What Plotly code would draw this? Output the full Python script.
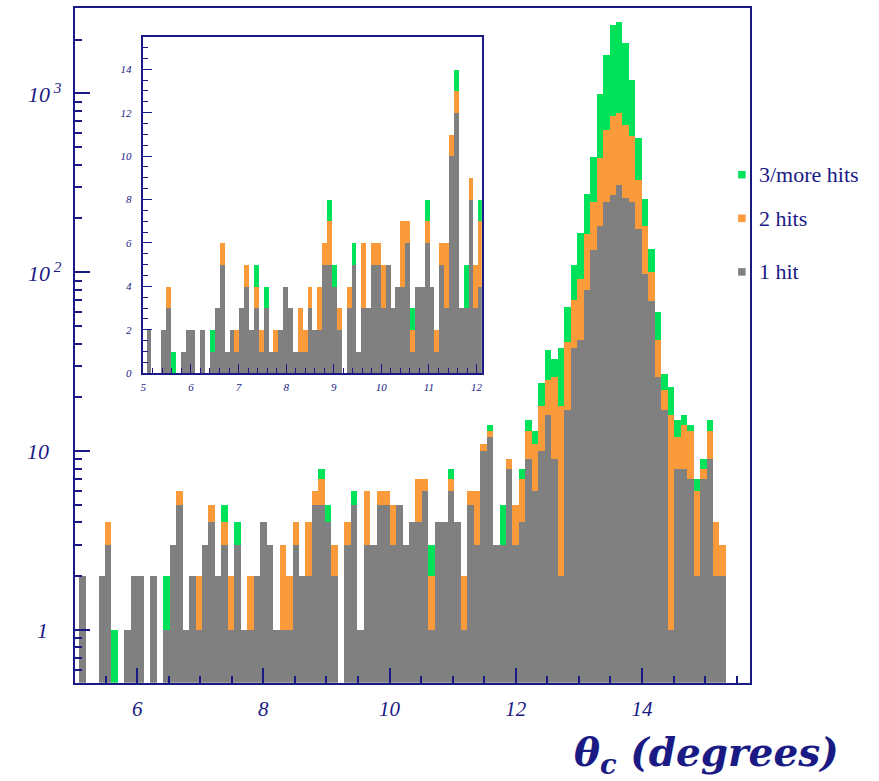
import numpy as np
import plotly.graph_objects as go

# Cherenkov angle histogram: 100 bins of 0.1025 deg starting at 5.075 deg
theta_start = 5.075
theta_step = 0.1025
n_bins = 100

# Counts per bin, split by number of hits
hits_1 = [
    2, 0, 0, 2, 3, 0, 0, 1, 2, 2,
    0, 2, 0, 1, 3, 5, 1, 2, 1, 3,
    4, 2, 3, 1, 3, 1, 1, 2, 4, 3,
    1, 1, 1, 3, 2, 2, 5, 5, 4, 2,
    0, 3, 5, 1, 3, 3, 5, 5, 3, 5,
    3, 4, 4, 6, 1, 4, 4, 6, 4, 1,
    5, 3, 10, 12, 3, 3, 8, 3, 4, 9,
    6, 10, 16, 9, 2, 17, 38, 42, 80, 133,
    182, 246, 270, 310, 259, 246, 174, 98, 69, 26,
    17, 1, 8, 8, 7, 2, 7, 9, 2, 2,
]
hits_2 = [
    0, 0, 0, 0, 1, 0, 0, 0, 0, 0,
    0, 0, 0, 0, 0, 1, 0, 0, 1, 0,
    1, 0, 1, 1, 0, 0, 1, 0, 0, 0,
    0, 2, 1, 1, 0, 2, 1, 2, 0, 1,
    0, 1, 0, 0, 3, 0, 1, 1, 2, 0,
    0, 0, 3, 1, 1, 0, 0, 1, 0, 1,
    1, 3, 1, 1, 0, 0, 1, 2, 3, 4,
    5, 8, 9, 17, 16, 24, 32, 50, 83, 115,
    253, 378, 480, 472, 412, 334, 153, 84, 32, 16,
    5, 15, 4, 6, 6, 4, 1, 4, 2, 1,
]
hits_3plus = [
    0, 0, 0, 0, 0, 1, 0, 0, 0, 0,
    0, 0, 0, 1, 0, 0, 0, 0, 0, 0,
    0, 0, 1, 0, 1, 0, 0, 0, 0, 0,
    0, 0, 0, 0, 0, 0, 0, 1, 1, 0,
    0, 0, 1, 0, 0, 0, 0, 0, 0, 0,
    0, 0, 0, 0, 1, 0, 0, 1, 0, 0,
    0, 0, 0, 1, 0, 2, 0, 0, 1, 2,
    2, 6, 12, 7, 20, 23, 40, 75, 110, 194,
    553, 1024, 1667, 1719, 1242, 617, 234, 76, 35, 18,
    5, 7, 3, 2, 1, 1, 1, 2, 0, 0,
]

series_names = ["1 hit", "2 hits", "3/more hits"]

main_x_ticks = [6, 8, 10, 12, 14]
main_y_ticks = [1, 10, 100, 1000]
main_y_text = ["1", "10", "10<sup> 2</sup>", "10<sup> 3</sup>"]
inset_x_ticks = [5, 6, 7, 8, 9, 10, 11, 12]
inset_y_ticks = [0, 2, 4, 6, 8, 10, 12, 14]

edges = theta_start + theta_step * np.arange(n_bins + 1)
centers = 0.5 * (edges[:-1] + edges[1:])

W, H = 879, 781
NAVY = "#1a1a84"
COLORS = ["#808080", "#fb9a3a", "#00e25a"]
SERIF = "Times New Roman, Liberation Serif, Times, serif"


def fx(p):
    return p / W


def fy(p):
    return 1 - p / H


fig = go.Figure()
stack = [hits_1, hits_2, hits_3plus]
for xa, ya in (("x", "y"), ("x2", "y2")):
    for name, vals, col in zip(series_names, stack, COLORS):
        fig.add_trace(go.Bar(
            x=centers, y=vals, width=theta_step, name=name,
            marker=dict(color=col, line=dict(width=0)),
            xaxis=xa, yaxis=ya, showlegend=False,
        ))

tickfont_main = dict(family=SERIF, size=21, color=NAVY, style="italic")
tickfont_inset = dict(family=SERIF, size=11, color=NAVY, style="italic")

x_minor = [v for v in np.arange(5.5, 15.51, 0.5) if v not in main_x_ticks]
y_minor = ([0.5, 0.6, 0.7, 0.8, 0.9] + list(range(2, 10)) + list(range(20, 100, 10))
           + list(range(200, 1000, 100)) + [2000, 3000])
ix_minor = [round(v, 2) for v in np.arange(5.2, 12.11, 0.2) if abs(v - round(v)) > 1e-6]
iy_minor = [v for v in np.arange(0.5, 15.5, 0.5) if v not in inset_y_ticks]

fig.update_layout(
    width=W, height=H,
    margin=dict(l=0, r=0, t=0, b=0),
    paper_bgcolor="white", plot_bgcolor="white",
    barmode="stack", bargap=0, showlegend=False,
    xaxis=dict(
        domain=[fx(72), fx(750)], range=[5.01, 15.705], anchor="y",
        showline=True, linecolor=NAVY, linewidth=2, mirror=True,
        showgrid=False, zeroline=False,
        ticks="inside", ticklen=15, tickwidth=1.5, tickcolor=NAVY,
        tickvals=main_x_ticks, ticktext=[str(v) for v in main_x_ticks],
        tickfont=tickfont_main, ticklabelstandoff=6,
        minor=dict(tickvals=x_minor, ticks="inside", ticklen=7,
                   tickwidth=1.5, tickcolor=NAVY, showgrid=False),
    ),
    yaxis=dict(
        type="log", domain=[fy(688), fy(8)], range=[-0.294, 3.478], anchor="x",
        showline=True, linecolor=NAVY, linewidth=2, mirror=True,
        showgrid=False, zeroline=False,
        ticks="inside", ticklen=15, tickwidth=1.5, tickcolor=NAVY,
        tickvals=main_y_ticks, showticklabels=False,
        minor=dict(tickvals=y_minor, ticks="inside", ticklen=7,
                   tickwidth=1.5, tickcolor=NAVY, showgrid=False),
    ),
    xaxis2=dict(
        domain=[fx(141), fx(481)], range=[5.0, 12.11], anchor="y2",
        showline=True, linecolor=NAVY, linewidth=1.5, mirror=True,
        showgrid=False, zeroline=False,
        ticks="inside", ticklen=9, tickwidth=1, tickcolor=NAVY,
        tickvals=inset_x_ticks, ticktext=[str(v) for v in inset_x_ticks],
        tickfont=tickfont_inset, ticklabelstandoff=3,
        minor=dict(tickvals=ix_minor, ticks="inside", ticklen=5,
                   tickwidth=1, tickcolor=NAVY, showgrid=False),
    ),
    yaxis2=dict(
        domain=[fy(376), fy(37)], range=[0, 15.5], anchor="x2",
        showline=True, linecolor=NAVY, linewidth=1.5, mirror=True,
        showgrid=False, zeroline=False,
        ticks="inside", ticklen=9, tickwidth=1, tickcolor=NAVY,
        tickvals=inset_y_ticks, ticktext=[str(v) for v in inset_y_ticks],
        tickfont=tickfont_inset, ticklabelstandoff=8,
        minor=dict(tickvals=iy_minor, ticks="inside", ticklen=5,
                   tickwidth=1, tickcolor=NAVY, showgrid=False),
    ),
)

# y tick labels of the log axis, centred left of the frame
label_x = [40, 35, 42, 42]
for val, txt, lx in zip(main_y_ticks, main_y_text, label_x):
    fig.add_annotation(
        x=fx(lx), xref="paper", y=np.log10(val), yref="y",
        text=txt, showarrow=False, xanchor="center", yanchor="middle",
        font=dict(family=SERIF, size=22, color=NAVY, style="italic"),
    )

# legend: coloured squares with labels, top entry first
legend_y = [176, 220, 274]
for name, col, ly in zip(series_names[::-1], COLORS[::-1], legend_y):
    fig.add_shape(
        type="rect", xref="paper", yref="paper",
        x0=fx(738.5), x1=fx(746), y0=fy(ly + 3.8), y1=fy(ly - 3.8),
        fillcolor=col, line=dict(width=0),
    )
    fig.add_annotation(
        x=fx(757), xref="paper", y=fy(ly), yref="paper",
        text=name, showarrow=False, xanchor="left", yanchor="middle",
        font=dict(family=SERIF, size=22, color=NAVY),
    )

# x axis title
fig.add_annotation(
    x=fx(842), xref="paper", y=fy(760), yref="paper",
    text="<b><i>θ<sub>c</sub> (degrees)</i></b>", showarrow=False,
    xanchor="right", yanchor="middle",
    font=dict(family="DejaVu Serif", size=39, color=NAVY),
)

fig.write_html("out.html")
